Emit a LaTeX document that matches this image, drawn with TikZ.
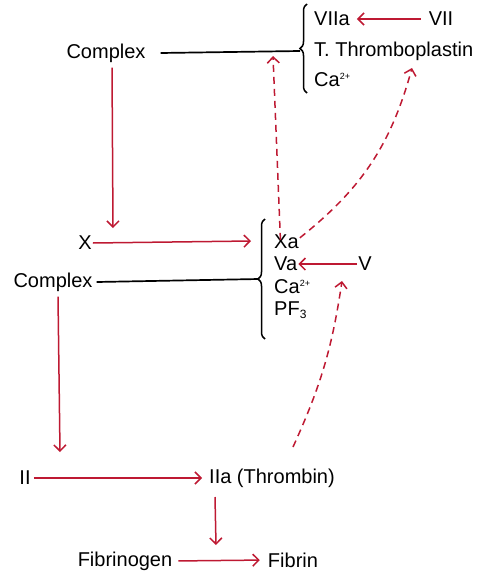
\documentclass[tikz,border=0pt]{standalone}
\usepackage{fontspec}
\setmainfont{Liberation Sans}
\usetikzlibrary{arrows.meta,decorations.pathreplacing}

\definecolor{bloodred}{RGB}{190,25,50}

\tikzset{
    lbl/.style={inner sep=1pt, font=\fontsize{20}{24}\selectfont},
    react/.style={bloodred, line width=1.5pt, -{Straight Barb[length=6pt,width=12pt,line width=1.5pt]}},
    feedback/.style={react, dash pattern=on 7pt off 5pt},
    bond/.style={black, line width=1.7pt},
    grp/.style={decorate, decoration={brace, amplitude=7pt}, line width=1.5pt}
}

\begin{document}
\begin{tikzpicture}[x=1pt, y=-1pt]
    \useasboundingbox (0,0) rectangle (489,573);

    % Draw the extrinsic group
    \node[lbl] (cxA) at (106,53) {Complex};
    \node[lbl, anchor=west] (vIIa) at (313,19) {VIIa};
    \node[lbl] (vII) at (441,19) {VII};
    \node[lbl, anchor=west] (tthrom) at (313,51) {T. Thromboplastin};
    \node[lbl, anchor=west] (caA) at (313,80) {Ca\textsuperscript{\fontsize{9}{9}\selectfont 2+}};
    \coordinate (tipA) at (300,51);
    \draw[grp] (307,93) -- (307,4);

    % Draw the common group
    \node[lbl] (X) at (85,243) {X};
    \node[lbl] (cxB) at (53,282) {Complex};
    \node[lbl, anchor=west] (xa) at (273,242) {Xa};
    \node[lbl, anchor=west] (va) at (273,264) {Va};
    \node[lbl, anchor=west] (caB) at (273,287) {Ca\textsuperscript{\fontsize{9}{9}\selectfont 2+}};
    \node[lbl, anchor=west] (pf) at (273,310) {PF\textsubscript{\fontsize{12}{12}\selectfont 3}};
    \node[lbl] (V) at (365,264) {V};
    \coordinate (tipB) at (259,279);
    \draw[grp] (265,339) -- (265,219);

    % Draw the thrombin and fibrin
    \node[lbl] (II) at (25,478) {II};
    \node[lbl] (IIa) at (272,478) {IIa (Thrombin)};
    \node[lbl] (fgen) at (125,561) {Fibrinogen};
    \node[lbl] (fib) at (293,560) {Fibrin};

    % Free ends of the arrows
    \coordinate (cxAend) at (113,228);
    \coordinate (cxBend) at (60,452);
    \coordinate (Xend) at (251,241);
    \coordinate (lineA) at (273,56);
    \coordinate (ttEnd) at (412,68);
    \coordinate (vEnd) at (342,281);
    \coordinate (IIaTop) at (293,447);
    \coordinate (IIaBot) at (215,497);
    \coordinate (fibTop) at (216,545);

    % Draw the bonds to the groups
    \draw[bond] ([xshift=14pt]cxA.east) -- (tipA);
    \draw[bond] ([xshift=3pt]cxB.east) -- (tipB);

    % Draw the reactions
    \draw[react, shorten <=7pt, shorten >=6pt] (vII.west) -- (vIIa.east);
    \draw[react] ([xshift=6pt,yshift=-4pt]cxA.south) -- (cxAend);
    \draw[react] (X.east) -- (Xend);
    \draw[react] (V.west) -- (va.east);
    \draw[react] ([xshift=5pt,yshift=-4pt]cxB.south) -- (cxBend);
    \draw[react, shorten <=2pt, shorten >=6pt] (II.east) -- (IIa.west);
    \draw[react] (IIaBot) -- (fibTop);
    \draw[react, shorten <=5pt, shorten >=7pt] (fgen.east) -- (fib.west);

    % Draw the feedback loops
    \draw[feedback] ([xshift=-6pt,yshift=-6pt]xa.north) -- (lineA);
    \draw[feedback] ([yshift=-4pt]xa.north east) to[bend right=18] (ttEnd);
    \draw[feedback] (IIaTop) to[bend right=8] (vEnd);
\end{tikzpicture}
\end{document}
